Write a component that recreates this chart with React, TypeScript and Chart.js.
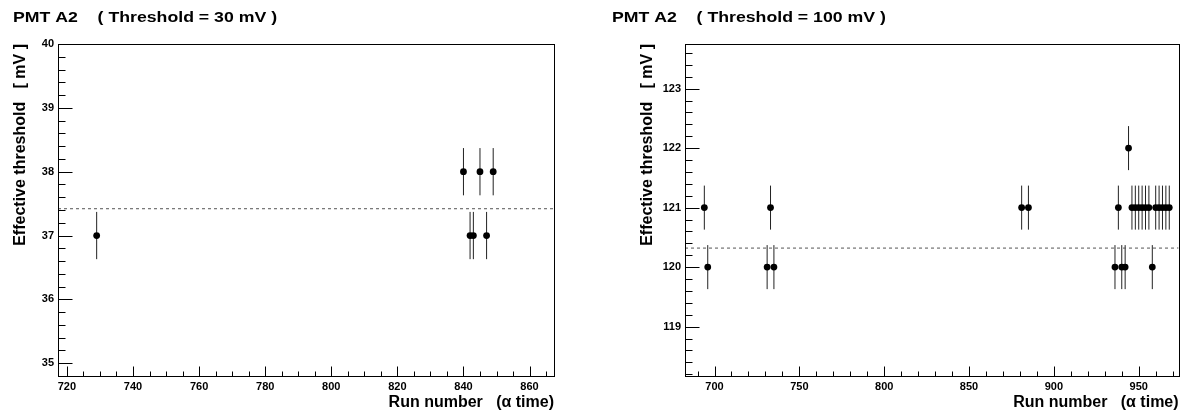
import React, { useEffect, useRef } from 'react';
import { Chart, registerables } from 'chart.js';

Chart.register(...registerables);

// ---------- data: left panel (Threshold = 30 mV) ----------
const leftTitle = 'PMT A2    ( Threshold = 30 mV )';
const leftRuns = [729, 840, 842, 843, 845, 847, 849];
const leftThresholds = [37, 38, 37, 37, 38, 37, 38];
const leftErrors = [0.37, 0.37, 0.37, 0.37, 0.37, 0.37, 0.37];
const leftReference = 37.42;
const leftXTicks = [720, 740, 760, 780, 800, 820, 840, 860];
const leftYTicks = [35, 36, 37, 38, 39, 40];
const leftXRange = [717.3, 867.4];
const leftYRange = [34.8, 40];
const leftXMinorStep = 5;
const leftYMinorStep = 0.2;

// ---------- data: right panel (Threshold = 100 mV) ----------
const rightTitle = 'PMT A2    ( Threshold = 100 mV )';
const rightRuns = [694, 696, 731, 733, 735, 881, 885, 936, 938, 940, 942, 944, 946, 948, 950, 952, 954, 956, 958, 960, 962, 964, 966, 968];
const rightThresholds = [121, 120, 120, 121, 120, 121, 121, 120, 121, 120, 120, 122, 121, 121, 121, 121, 121, 121, 120, 121, 121, 121, 121, 121];
const rightErrors = [0.37, 0.37, 0.37, 0.37, 0.37, 0.37, 0.37, 0.37, 0.37, 0.37, 0.37, 0.37, 0.37, 0.37, 0.37, 0.37, 0.37, 0.37, 0.37, 0.37, 0.37, 0.37, 0.37, 0.37];
const rightReference = 120.32;
const rightXTicks = [700, 750, 800, 850, 900, 950];
const rightYTicks = [119, 120, 121, 122, 123];
const rightXRange = [682.6, 973.5];
const rightYRange = [118.17, 123.75];
const rightXMinorStep = 10;
const rightYMinorStep = 0.2;

const xAxisTitle = 'Run number   (\u03b1 time)';
const yAxisTitle = 'Effective threshold   [ mV ]';

const FONT_FAMILY = '"Liberation Sans", Arial, Helvetica, sans-serif';

interface Panel {
  title: string;
  titleX: number;
  runs: number[];
  values: number[];
  errors: number[];
  reference: number;
  xTicks: number[];
  yTicks: number[];
  xRange: number[];
  yRange: number[];
  xMinor: number;
  yMinor: number;
  padding: { left: number; right: number; top: number; bottom: number };
}

const panels: Panel[] = [
  {
    title: leftTitle,
    titleX: 13,
    runs: leftRuns,
    values: leftThresholds,
    errors: leftErrors,
    reference: leftReference,
    xTicks: leftXTicks,
    yTicks: leftYTicks,
    xRange: leftXRange,
    yRange: leftYRange,
    xMinor: leftXMinorStep,
    yMinor: leftYMinorStep,
    padding: { left: 18, right: 37, top: 44, bottom: 16 },
  },
  {
    title: rightTitle,
    titleX: 21,
    runs: rightRuns,
    values: rightThresholds,
    errors: rightErrors,
    reference: rightReference,
    xTicks: rightXTicks,
    yTicks: rightYTicks,
    xRange: rightXRange,
    yRange: rightYRange,
    xMinor: rightXMinorStep,
    yMinor: rightYMinorStep,
    padding: { left: 54, right: 2, top: 44, bottom: 16 },
  },
];

function minorValues(majors: number[], step: number, min: number, max: number): number[] {
  const out: number[] = [];
  const t0 = majors[0];
  const kMin = Math.ceil((min - t0) / step - 1e-6);
  const kMax = Math.floor((max - t0) / step + 1e-6);
  for (let k = kMin; k <= kMax; k++) {
    const v = t0 + k * step;
    if (majors.some((m) => Math.abs(m - v) < step * 0.01)) continue;
    out.push(v);
  }
  return out;
}

function makePlugin(p: Panel) {
  return {
    id: 'rootStyle',
    beforeDatasetsDraw(chart: any) {
      const ctx = chart.ctx as CanvasRenderingContext2D;
      const xs = chart.scales.x;
      const ys = chart.scales.y;
      ctx.save();
      ctx.strokeStyle = '#222';
      ctx.lineWidth = 1;
      for (let i = 0; i < p.runs.length; i++) {
        const x = xs.getPixelForValue(p.runs[i]);
        const y1 = ys.getPixelForValue(p.values[i] - p.errors[i]);
        const y2 = ys.getPixelForValue(p.values[i] + p.errors[i]);
        ctx.beginPath();
        ctx.moveTo(x, y1);
        ctx.lineTo(x, y2);
        ctx.stroke();
      }
      ctx.restore();
    },
    afterDraw(chart: any) {
      const ctx = chart.ctx as CanvasRenderingContext2D;
      const a = chart.chartArea;
      const xs = chart.scales.x;
      const ys = chart.scales.y;
      const L = Math.round(a.left) + 0.5;
      const R = Math.round(a.right) + 0.5;
      const T = Math.round(a.top) + 0.5;
      const B = Math.round(a.bottom) + 0.5;
      ctx.save();
      ctx.strokeStyle = '#000';
      ctx.lineWidth = 1;
      ctx.strokeRect(L, T, R - L, B - T);
      // inward ticks
      ctx.beginPath();
      p.yTicks.forEach((v) => {
        const y = Math.round(ys.getPixelForValue(v)) + 0.5;
        ctx.moveTo(L, y);
        ctx.lineTo(L + 14, y);
      });
      minorValues(p.yTicks, p.yMinor, p.yRange[0], p.yRange[1]).forEach((v) => {
        const y = Math.round(ys.getPixelForValue(v)) + 0.5;
        ctx.moveTo(L, y);
        ctx.lineTo(L + 7, y);
      });
      p.xTicks.forEach((v) => {
        const x = Math.round(xs.getPixelForValue(v)) + 0.5;
        ctx.moveTo(x, B);
        ctx.lineTo(x, B - 10);
      });
      minorValues(p.xTicks, p.xMinor, p.xRange[0], p.xRange[1]).forEach((v) => {
        const x = Math.round(xs.getPixelForValue(v)) + 0.5;
        ctx.moveTo(x, B);
        ctx.lineTo(x, B - 5);
      });
      ctx.stroke();

      ctx.fillStyle = '#000';
      // panel title
      ctx.save();
      ctx.font = `bold 15px ${FONT_FAMILY}`;
      ctx.textAlign = 'left';
      ctx.textBaseline = 'alphabetic';
      ctx.translate(p.titleX, 22);
      ctx.scale(1.18, 1);
      ctx.fillText(p.title, 0, 0);
      ctx.restore();
      // x axis title
      ctx.font = `bold 16px ${FONT_FAMILY}`;
      ctx.textAlign = 'right';
      ctx.textBaseline = 'alphabetic';
      ctx.fillText(xAxisTitle, a.right, 407);
      // y axis title
      ctx.save();
      ctx.translate(a.left - 33.5, a.top);
      ctx.rotate(-Math.PI / 2);
      ctx.textAlign = 'right';
      ctx.fillText(yAxisTitle, 0, 0);
      ctx.restore();
      ctx.restore();
    },
  };
}

function makeConfig(p: Panel): any {
  const tickFont = { family: FONT_FAMILY, size: 11, weight: 'bold' as const };
  return {
    type: 'scatter',
    data: {
      datasets: [
        {
          type: 'line',
          data: [
            { x: p.xRange[0], y: p.reference },
            { x: p.xRange[1], y: p.reference },
          ],
          borderColor: '#555',
          borderWidth: 1,
          borderDash: [3, 3],
          pointRadius: 0,
          fill: false,
          order: 2,
        },
        {
          type: 'scatter',
          data: p.runs.map((r, i) => ({ x: r, y: p.values[i] })),
          backgroundColor: '#000',
          borderColor: '#000',
          borderWidth: 0,
          pointRadius: 3.4,
          pointHoverRadius: 3.4,
          order: 1,
        },
      ],
    },
    options: {
      responsive: false,
      animation: false,
      events: [],
      layout: { padding: p.padding },
      plugins: { legend: { display: false }, tooltip: { enabled: false }, title: { display: false } },
      scales: {
        x: {
          type: 'linear',
          min: p.xRange[0],
          max: p.xRange[1],
          afterBuildTicks: (s: any) => {
            s.ticks = p.xTicks.map((v) => ({ value: v }));
          },
          afterFit: (s: any) => {
            s.height = 22;
          },
          grid: { display: false, drawTicks: false },
          border: { display: false },
          ticks: {
            font: tickFont,
            color: '#000',
            padding: 4,
            maxRotation: 0,
            autoSkip: false,
            callback: (v: any) => String(v),
          },
        },
        y: {
          type: 'linear',
          min: p.yRange[0],
          max: p.yRange[1],
          afterBuildTicks: (s: any) => {
            s.ticks = p.yTicks.map((v) => ({ value: v }));
          },
          afterFit: (s: any) => {
            s.width = 40;
          },
          grid: { display: false, drawTicks: false },
          border: { display: false },
          ticks: {
            font: tickFont,
            color: '#000',
            padding: 4,
            autoSkip: false,
            callback: (v: any) => String(v),
          },
        },
      },
    },
    plugins: [makePlugin(p)],
  };
}

export default function App() {
  const leftRef = useRef<HTMLCanvasElement | null>(null);
  const rightRef = useRef<HTMLCanvasElement | null>(null);

  useEffect(() => {
    document.body.style.margin = '0';
    const charts: Chart[] = [];
    if (leftRef.current) charts.push(new Chart(leftRef.current, makeConfig(panels[0])));
    if (rightRef.current) charts.push(new Chart(rightRef.current, makeConfig(panels[1])));
    return () => {
      charts.forEach((c) => c.destroy());
    };
  }, []);

  return (
    <div style={{ position: 'fixed', left: 0, top: 0, width: 1182, height: 414, background: '#fff' }}>
      <canvas
        ref={leftRef}
        width={591}
        height={414}
        style={{ position: 'absolute', left: 0, top: 0, width: 591, height: 414 }}
      />
      <canvas
        ref={rightRef}
        width={591}
        height={414}
        style={{ position: 'absolute', left: 591, top: 0, width: 591, height: 414 }}
      />
    </div>
  );
}
